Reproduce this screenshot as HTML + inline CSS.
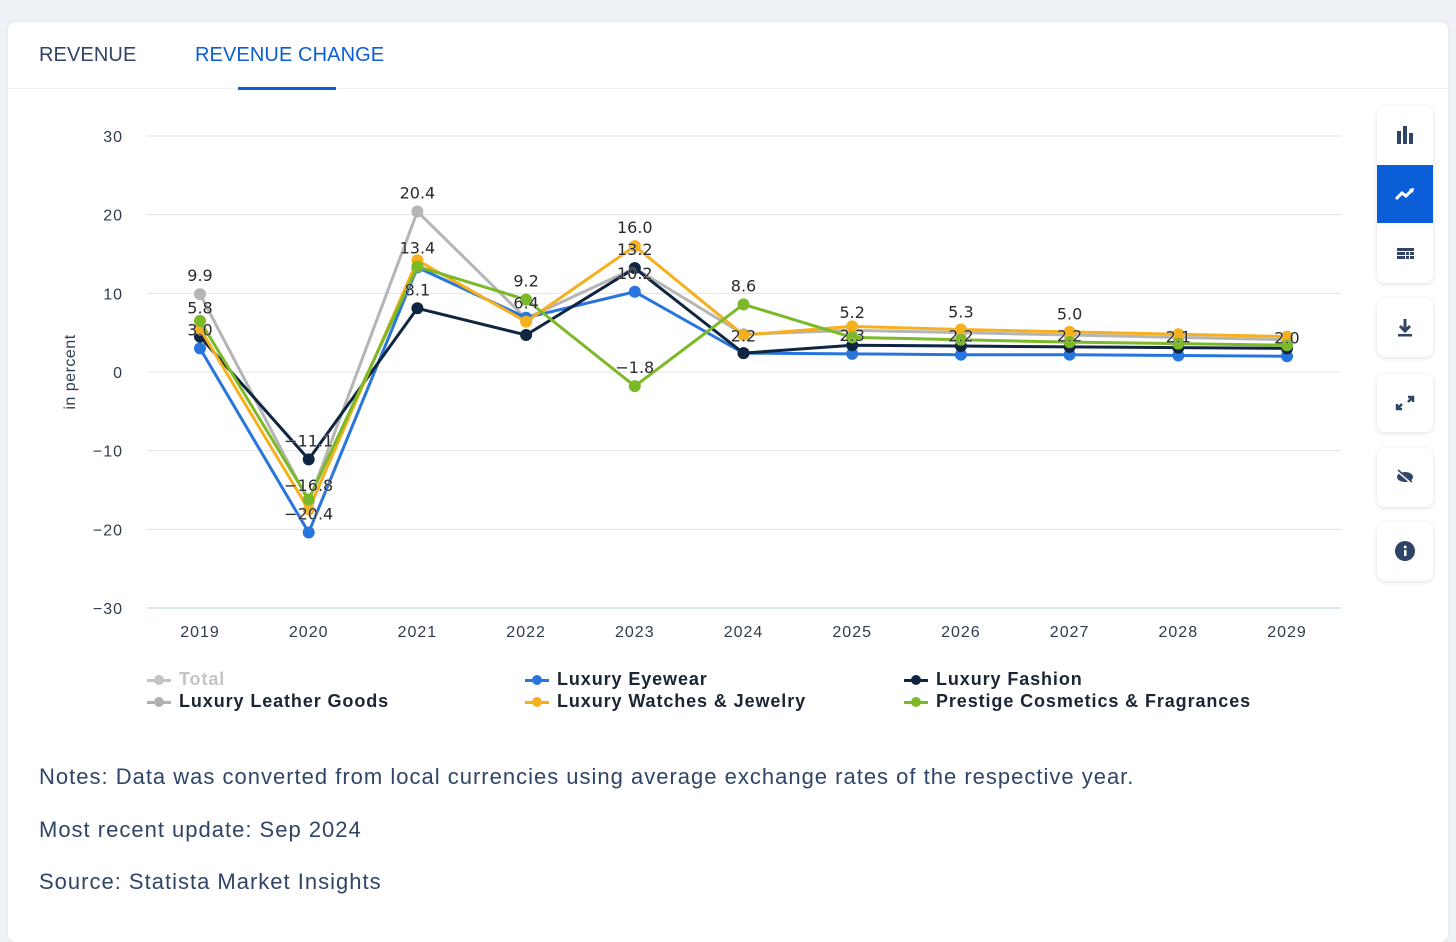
<!DOCTYPE html>
<html><head><meta charset="utf-8">
<style>
body{margin:0;width:1456px;height:929px;background:#eef1f5;font-family:"Liberation Sans","DejaVu Sans",sans-serif;overflow:hidden;position:relative}
#card{position:absolute;left:8px;top:22px;width:1440px;height:920px;background:#fff;border-radius:8px;box-shadow:0 0 3px rgba(0,0,0,.08)}
.tab{position:absolute;top:44px;font-size:20px;letter-spacing:.1px}
.btn{position:absolute;left:1377px;width:56px;background:#fff;border-radius:8px;box-shadow:0 1px 5px rgba(30,50,80,.15)}
.note{position:absolute;left:39px;font-size:22px;color:#2f4466;letter-spacing:1px}
.leg{position:absolute;font-size:18px;font-weight:bold;color:#1b2533;letter-spacing:.9px}
</style></head><body>
<div id="card"></div>
<div style="position:absolute;left:8px;top:88px;width:1440px;height:1px;background:#eef0f3"></div>
<div class="tab" style="left:39px;color:#2f4466">REVENUE</div>
<div class="tab" style="left:195px;color:#0b5ed7">REVENUE CHANGE</div>
<div style="position:absolute;left:238px;top:87px;width:98px;height:3px;background:#0b5ed7"></div>

<div class="btn" style="top:106px;height:177px;overflow:hidden">
 <div style="position:absolute;top:59px;left:0;width:56px;height:58px;background:#0b5ed7">
  <svg width="56" height="58"><path d="M19 34 L25 28 L29 31 L35 25" stroke="#fff" stroke-width="3" fill="none"/><path d="M32 24 L37 23 L36 28Z" fill="#fff"/></svg></div>
 <svg style="position:absolute;top:0;left:0" width="56" height="59"><rect x="20" y="25" width="4" height="13" fill="#2f4466"/><rect x="26" y="20" width="4" height="18" fill="#2f4466"/><rect x="32" y="27" width="4" height="11" fill="#2f4466"/></svg>
 <svg style="position:absolute;top:117px;left:0" width="56" height="60"><g fill="#2f4466"><rect x="20" y="25" width="17" height="3"/><rect x="20" y="29" width="8" height="3"/><rect x="29" y="29" width="3" height="3"/><rect x="33" y="29" width="4" height="3"/><rect x="20" y="33" width="8" height="3"/><rect x="29" y="33" width="3" height="3"/><rect x="33" y="33" width="4" height="3"/></g></svg>
</div>
<div class="btn" style="top:298px;height:59px"><svg width="56" height="59"><path d="M28 21 V33 M23 28 L28 33 L33 28" stroke="#2f4466" stroke-width="3" fill="none"/><rect x="21" y="36" width="14" height="2.5" fill="#2f4466"/></svg></div>
<div class="btn" style="top:374px;height:58px"><svg width="56" height="58"><path d="M31 23 H36 V28 M25 35 H20 V30 M36 23 L31 28 M20 35 L25 30" stroke="#2f4466" stroke-width="2.5" fill="none"/></svg></div>
<div class="btn" style="top:448px;height:59px"><svg width="56" height="59"><ellipse cx="28" cy="29" rx="8" ry="5" fill="#2f4466"/><path d="M21 23 L35 35" stroke="#fff" stroke-width="3"/><path d="M21 22 L35 34" stroke="#2f4466" stroke-width="1.5"/></svg></div>
<div class="btn" style="top:522px;height:59px"><svg width="56" height="59"><circle cx="28" cy="29" r="10" fill="#2f4466"/><rect x="27" y="28" width="2.5" height="6" fill="#fff"/><circle cx="28.2" cy="25" r="1.5" fill="#fff"/></svg></div>

<svg id="chart" style="position:absolute;left:0;top:0" width="1456" height="660"></svg>

<div class="leg" style="left:147px;top:669px;color:#c4c4c4"><span style="display:inline-block;width:24px;height:3px;background:#c4c4c4;vertical-align:middle;margin-right:8px;position:relative"><i style="position:absolute;left:7px;top:-4px;width:10px;height:10px;border-radius:50%;background:#c4c4c4"></i></span>Total</div>
<div class="leg" style="left:147px;top:691px"><span style="display:inline-block;width:24px;height:3px;background:#b0b0b0;vertical-align:middle;margin-right:8px;position:relative"><i style="position:absolute;left:7px;top:-4px;width:10px;height:10px;border-radius:50%;background:#b0b0b0"></i></span>Luxury Leather Goods</div>
<div class="leg" style="left:525px;top:669px"><span style="display:inline-block;width:24px;height:3px;background:#2876dd;vertical-align:middle;margin-right:8px;position:relative"><i style="position:absolute;left:7px;top:-4px;width:10px;height:10px;border-radius:50%;background:#2876dd"></i></span>Luxury Eyewear</div>
<div class="leg" style="left:525px;top:691px"><span style="display:inline-block;width:24px;height:3px;background:#f6b01e;vertical-align:middle;margin-right:8px;position:relative"><i style="position:absolute;left:7px;top:-4px;width:10px;height:10px;border-radius:50%;background:#f6b01e"></i></span>Luxury Watches &amp; Jewelry</div>
<div class="leg" style="left:904px;top:669px"><span style="display:inline-block;width:24px;height:3px;background:#0f2541;vertical-align:middle;margin-right:8px;position:relative"><i style="position:absolute;left:7px;top:-4px;width:10px;height:10px;border-radius:50%;background:#0f2541"></i></span>Luxury Fashion</div>
<div class="leg" style="left:904px;top:691px"><span style="display:inline-block;width:24px;height:3px;background:#7bb927;vertical-align:middle;margin-right:8px;position:relative"><i style="position:absolute;left:7px;top:-4px;width:10px;height:10px;border-radius:50%;background:#7bb927"></i></span>Prestige Cosmetics &amp; Fragrances</div>

<div class="note" style="top:764px">Notes: Data was converted from local currencies using average exchange rates of the respective year.</div>
<div class="note" style="top:817px">Most recent update: Sep 2024</div>
<div class="note" style="top:869px">Source: Statista Market Insights</div>

<script>
const years=["2019","2020","2021","2022","2023","2024","2025","2026","2027","2028","2029"];
const yTicks=[30,20,10,0,-10,-20,-30];
const leather=[9.9,-16.5,20.4,6.8,13.2,4.8,5.3,5.0,4.7,4.4,4.1];
const eyewear=[3.0,-20.4,13.3,6.9,10.2,2.4,2.3,2.2,2.2,2.1,2.0];
const fashion=[4.5,-11.1,8.1,4.7,13.2,2.4,3.4,3.3,3.2,3.1,3.0];
const watches=[5.5,-17.5,14.2,6.4,16.0,4.7,5.8,5.4,5.1,4.8,4.5];
const cosmetics=[6.5,-16.2,13.4,9.2,-1.8,8.6,4.4,4.1,3.8,3.6,3.4];
const labelYearIdx=[0,0,0,1,1,1,2,2,2,3,3,4,4,4,4,5,5,6,6,7,7,8,8,9,10];
const labelValues=[9.9,5.8,3.0,-11.1,-16.8,-20.4,20.4,13.4,8.1,9.2,6.4,16.0,13.2,10.2,-1.8,8.6,2.2,5.2,2.3,5.3,2.2,5.0,2.2,2.1,2.0];

const svg=document.getElementById('chart');
const NS='http://www.w3.org/2000/svg';
const x=i=>200+i*(1287-200)/(years.length-1);
const y=v=>372-v*(608-136)/60;
function mk(t,a){const e=document.createElementNS(NS,t);for(const k in a)e.setAttribute(k,a[k]);svg.appendChild(e);return e;}
yTicks.forEach(v=>{
 const l=mk('line',{x1:147,x2:1341,y1:y(v),y2:y(v),stroke:v===-30?'#b7c7dc':'#e3e3e3','stroke-width':1});
 
 
 const t=mk('text',{x:123,y:y(v)+6,'text-anchor':'end','font-size':16,fill:'#2f3c4d','font-family':'Liberation Sans, sans-serif','letter-spacing':'1'});
 t.textContent=v<0?'\u2212'+(-v):String(v);
 
 
});
years.forEach((yr,i)=>{
 const t=mk('text',{x:x(i),y:637,'text-anchor':'middle','font-size':16,fill:'#2f3c4d','font-family':'Liberation Sans, sans-serif','letter-spacing':'1'});
 t.textContent=yr;
 
 
});
const yt=mk('text',{x:0,y:0,transform:'translate(75,372) rotate(-90)','text-anchor':'middle','font-size':16,fill:'#2f3c4d','font-family':'Liberation Sans, sans-serif','letter-spacing':'0.5'});
yt.textContent='in percent';


const series=[[leather,'#b5b5b5','leather'],[eyewear,'#2876dd','eyewear'],[fashion,'#0f2541','fashion'],[watches,'#f6b01e','watches'],[cosmetics,'#7bb927','cosmetics']];
series.forEach(([d,c,n])=>{
 const p=mk('polyline',{points:d.map((v,i)=>x(i)+','+y(v)).join(' '),fill:'none',stroke:c,'stroke-width':3,'stroke-linejoin':'round'});
 
 
 d.forEach((v,i)=>{
  const m=mk('circle',{cx:x(i),cy:y(v),r:6,fill:c});
  
  
 });
});
labelValues.forEach((v,k)=>{
 const t=mk('text',{x:x(labelYearIdx[k]),y:y(v)-13,'text-anchor':'middle','font-size':16,fill:'#2a2a2a','font-family':'DejaVu Sans, sans-serif',stroke:'#fff','stroke-width':0.5,'paint-order':'stroke'});
 t.textContent=v<0?'\u2212'+(-v).toFixed(1):v.toFixed(1);
 
 
});
</script>
</body></html>
